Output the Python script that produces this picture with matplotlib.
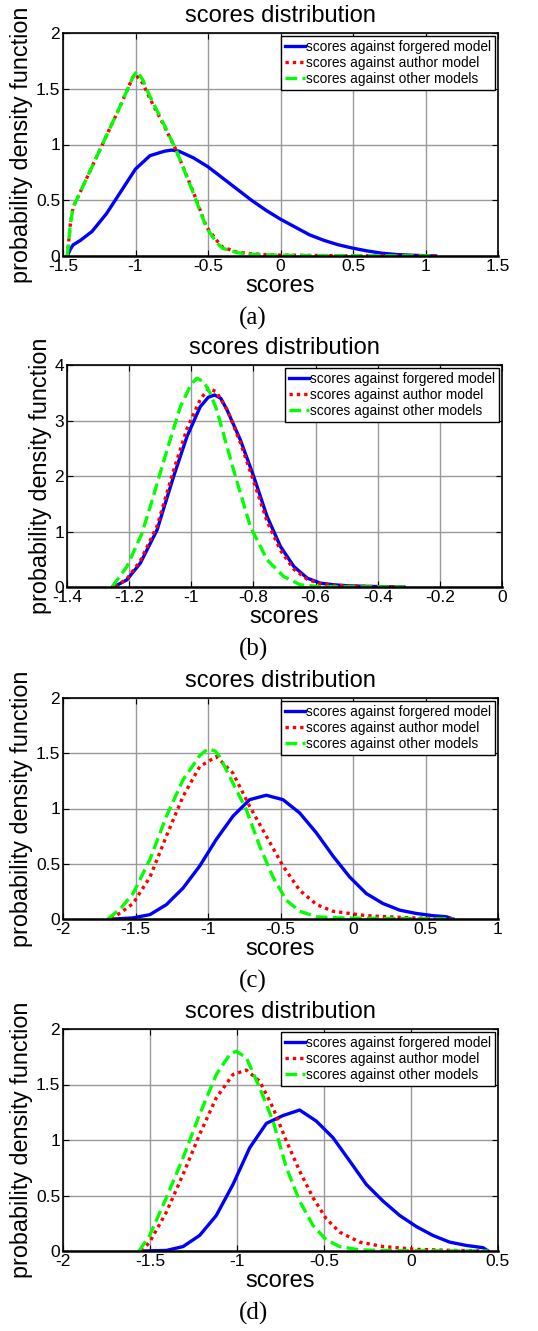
import matplotlib
matplotlib.use("Agg")
import matplotlib.pyplot as plt
from matplotlib.ticker import FuncFormatter

plt.rcParams['font.family'] = ['Liberation Sans', 'DejaVu Sans']
plt.rcParams['axes.unicode_minus'] = False

labels = ['scores against forgered model', 'scores against author model', 'scores against other models']

# panel (a)
a_blue_x = [-1.47, -1.45, -1.43, -1.38, -1.3, -1.2, -1.1, -1.0, -0.9, -0.8, -0.75, -0.7, -0.6, -0.5, -0.4,
            -0.3, -0.2, -0.1, 0.0, 0.1, 0.2, 0.3, 0.4, 0.5, 0.6, 0.7, 0.8, 0.9, 1.0, 1.07]
a_blue_y = [0, 0.06, 0.10, 0.14, 0.22, 0.38, 0.58, 0.78, 0.90, 0.94, 0.95, 0.94, 0.88, 0.80, 0.70,
            0.60, 0.50, 0.41, 0.33, 0.26, 0.19, 0.14, 0.10, 0.07, 0.045, 0.025, 0.013, 0.007, 0.003, 0]
a_red_x = [-1.47, -1.45, -1.43, -1.4, -1.3, -1.2, -1.1, -1.02, -1.0, -0.95, -0.9, -0.8, -0.72, -0.6, -0.51,
           -0.44, -0.4, -0.3, -0.2, -0.1, 0.0, 0.3, 0.6, 0.9, 1.07]
a_red_y = [0, 0.28, 0.44, 0.52, 0.80, 1.08, 1.36, 1.60, 1.63, 1.55, 1.41, 1.16, 0.95, 0.57, 0.26,
           0.14, 0.08, 0.035, 0.02, 0.012, 0.008, 0.004, 0.002, 0.001, 0]
a_green_x = [-1.47, -1.45, -1.43, -1.4, -1.3, -1.2, -1.1, -1.02, -0.99, -0.95, -0.9, -0.8, -0.72, -0.6, -0.51,
             -0.44, -0.4, -0.3, -0.2, -0.1, 0.0, 0.3, 0.6, 0.9, 1.07]
a_green_y = [0, 0.28, 0.44, 0.52, 0.80, 1.08, 1.36, 1.60, 1.66, 1.58, 1.43, 1.17, 0.95, 0.56, 0.25,
             0.12, 0.07, 0.03, 0.015, 0.01, 0.006, 0.003, 0.002, 0.001, 0]

# panel (b)
b_blue_x = [-1.25, -1.207, -1.164, -1.11, -1.057, -1.014, -0.971, -0.945, -0.925, -0.905, -0.885, -0.842,
            -0.799, -0.756, -0.713, -0.67, -0.627, -0.585, -0.542, -0.49, -0.434, -0.38, -0.316]
b_blue_y = [0, 0.13, 0.43, 1.03, 1.99, 2.71, 3.25, 3.42, 3.46, 3.40, 3.19, 2.65,
            1.99, 1.27, 0.73, 0.37, 0.16, 0.07, 0.04, 0.02, 0.012, 0.006, 0]
b_red_x = [-1.245, -1.207, -1.164, -1.11, -1.057, -1.014, -0.971, -0.944, -0.92, -0.885, -0.842, -0.799,
           -0.756, -0.713, -0.67, -0.627, -0.585, -0.542, -0.49, -0.434, -0.38, -0.316]
b_red_y = [0, 0.15, 0.47, 1.10, 2.10, 2.85, 3.38, 3.58, 3.52, 3.20, 2.60, 1.90,
           1.18, 0.66, 0.32, 0.14, 0.06, 0.03, 0.02, 0.01, 0.005, 0]
b_green_x = [-1.255, -1.207, -1.16, -1.132, -1.078, -1.035, -1.0, -0.982, -0.96, -0.94, -0.918, -0.864,
             -0.81, -0.756, -0.703, -0.649, -0.595, -0.55, -0.45, -0.316]
b_green_y = [0, 0.37, 0.95, 1.45, 2.47, 3.25, 3.66, 3.76, 3.70, 3.50, 3.19, 2.11,
             1.09, 0.49, 0.19, 0.04, 0.01, 0.005, 0.002, 0]

# panel (c)
c_blue_x = [-1.644, -1.517, -1.40, -1.287, -1.172, -1.057, -0.943, -0.828, -0.713, -0.598, -0.483, -0.368,
            -0.253, -0.138, -0.023, 0.092, 0.207, 0.322, 0.437, 0.552, 0.644, 0.69]
c_blue_y = [0, 0.01, 0.04, 0.13, 0.28, 0.48, 0.72, 0.93, 1.08, 1.12, 1.08, 0.96,
            0.78, 0.57, 0.38, 0.23, 0.14, 0.08, 0.05, 0.03, 0.02, 0]
c_red_x = [-1.667, -1.6, -1.517, -1.40, -1.287, -1.172, -1.057, -0.943, -0.828, -0.713, -0.598, -0.483,
           -0.368, -0.25, -0.138, 0.09, 0.4, 0.69]
c_red_y = [0, 0.06, 0.14, 0.38, 0.75, 1.11, 1.38, 1.47, 1.32, 1.02, 0.75, 0.48,
           0.26, 0.13, 0.07, 0.03, 0.01, 0]
c_green_x = [-1.69, -1.6, -1.517, -1.40, -1.287, -1.172, -1.057, -1.0, -0.95, -0.92, -0.828, -0.736,
             -0.644, -0.552, -0.46, -0.368, -0.25, -0.1, 0.2, 0.5, 0.69]
c_green_y = [0, 0.10, 0.23, 0.54, 0.93, 1.26, 1.48, 1.54, 1.52, 1.47, 1.23, 0.99,
             0.66, 0.38, 0.17, 0.07, 0.02, 0.01, 0.005, 0.002, 0]

# panel (d)
d_blue_x = [-1.55, -1.406, -1.31, -1.215, -1.119, -1.023, -0.927, -0.831, -0.736, -0.64, -0.544, -0.448,
            -0.352, -0.257, -0.161, -0.065, 0.031, 0.126, 0.222, 0.318, 0.414, 0.443]
d_blue_y = [0, 0.005, 0.04, 0.14, 0.32, 0.60, 0.93, 1.15, 1.22, 1.27, 1.17, 1.02,
            0.81, 0.60, 0.45, 0.32, 0.22, 0.14, 0.08, 0.05, 0.03, 0]
d_red_x = [-1.55, -1.502, -1.406, -1.31, -1.215, -1.119, -1.023, -0.946, -0.87, -0.793, -0.716, -0.64,
           -0.563, -0.487, -0.41, -0.295, -0.16, 0.03, 0.25, 0.443]
d_red_y = [0, 0.08, 0.35, 0.69, 1.05, 1.38, 1.59, 1.63, 1.53, 1.29, 0.99, 0.72,
           0.48, 0.29, 0.17, 0.08, 0.04, 0.015, 0.005, 0]
d_green_x = [-1.563, -1.502, -1.406, -1.31, -1.215, -1.119, -1.042, -1.004, -0.946, -0.87, -0.793, -0.716,
             -0.64, -0.563, -0.487, -0.41, -0.295, -0.1, 0.2, 0.443]
d_green_y = [0, 0.14, 0.48, 0.84, 1.23, 1.59, 1.77, 1.80, 1.74, 1.47, 1.17, 0.75,
             0.45, 0.23, 0.10, 0.04, 0.01, 0.003, 0.001, 0]

panels = [
    ('(a)', (a_blue_x, a_blue_y), (a_red_x, a_red_y), (a_green_x, a_green_y),
     (-1.5, 1.5, 0.5), (0, 2, 0.5), (63, 33, 498, 256)),
    ('(b)', (b_blue_x, b_blue_y), (b_red_x, b_red_y), (b_green_x, b_green_y),
     (-1.4, 0, 0.2), (0, 4, 1), (67, 365, 502, 587)),
    ('(c)', (c_blue_x, c_blue_y), (c_red_x, c_red_y), (c_green_x, c_green_y),
     (-2, 1, 0.5), (0, 2, 0.5), (63, 698, 498, 919)),
    ('(d)', (d_blue_x, d_blue_y), (d_red_x, d_red_y), (d_green_x, d_green_y),
     (-2, 0.5, 0.5), (0, 2, 0.5), (63, 1029, 498, 1251)),
]

W, H = 538, 1331
fig = plt.figure(figsize=(W / 100, H / 100), dpi=100)


def fmt(v, pos):
    s = ('%.2f' % v).rstrip('0').rstrip('.')
    return '0' if s in ('-0', '') else s


for tag, blue, red, green, xr, yr, box in panels:
    l, t, r, b = box
    ax = fig.add_axes([l / W, 1 - b / H, (r - l) / W, (b - t) / H])
    ax.plot(blue[0], blue[1], color='#0000ff', lw=2.4, label=labels[0])
    ax.plot(red[0], red[1], color='#ff0000', lw=2.4, linestyle=(0, (1, 1.2)), label=labels[1])
    ax.plot(green[0], green[1], color='#00ff00', lw=2.4, linestyle=(0, (3.5, 1.6)), label=labels[2])
    n = int(round((xr[1] - xr[0]) / xr[2]))
    ax.set_xticks([xr[0] + i * xr[2] for i in range(n + 1)])
    m = int(round((yr[1] - yr[0]) / yr[2]))
    ax.set_yticks([yr[0] + i * yr[2] for i in range(m + 1)])
    ax.set_xlim(xr[0], xr[1])
    ax.set_ylim(yr[0], yr[1])
    ax.xaxis.set_major_formatter(FuncFormatter(fmt))
    ax.yaxis.set_major_formatter(FuncFormatter(fmt))
    ax.grid(True, color='#9a9a9a', lw=1.0)
    ax.tick_params(direction='in', top=True, right=True, labelsize=12.5, length=4, pad=2)
    for s in ax.spines.values():
        s.set_linewidth(1.2)
    ax.spines['bottom'].set_linewidth(1.8)
    ax.set_title('scores distribution', fontsize=17, pad=8)
    ax.set_xlabel('scores', fontsize=17, labelpad=1)
    ax.set_ylabel('probability density function', fontsize=16.8, labelpad=2)
    leg = ax.legend(loc='upper right', fontsize=9.9, frameon=True, fancybox=False, framealpha=1,
                    edgecolor='black', borderaxespad=0.2, handlelength=1.4, handletextpad=0.1,
                    labelspacing=0.15, borderpad=0.3)
    leg.get_frame().set_linewidth(1.0)
    fig.text(253 / W, 1 - (b + 62) / H, tag, family='Liberation Serif', fontsize=18,
             ha='center', va='center')

fig.savefig('out.png', dpi=100)
